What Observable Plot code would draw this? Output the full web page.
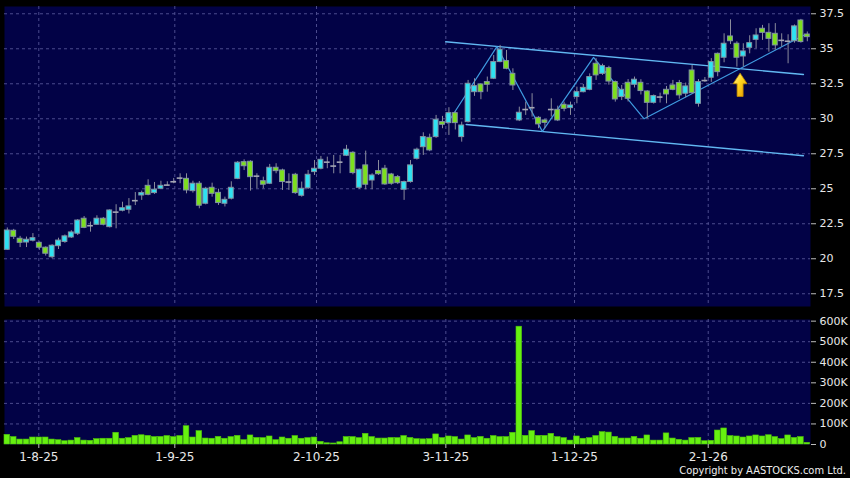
<!DOCTYPE html>
<html><head><meta charset="utf-8">
<script src="https://cdn.jsdelivr.net/npm/d3@7"></script>
<script src="https://cdn.jsdelivr.net/npm/@observablehq/plot@0.6"></script>
<style>
html,body{margin:0;padding:0;background:#000;}
#chart{position:relative;width:850px;height:478px;background:#000;overflow:hidden;font-family:"DejaVu Sans",sans-serif;}
#price{position:absolute;left:0;top:0;}
#vol{position:absolute;left:0;top:313px;}
#copy{position:absolute;right:4px;top:464px;color:#eeeeee;font:11px "DejaVu Sans Condensed","DejaVu Sans",sans-serif;white-space:nowrap;}
</style></head>
<body><div id="chart"><div id="price"></div><div id="vol"></div><div id="copy">Copyright by AASTOCKS.com Ltd.</div></div>
<script>
// ---- data (one entry per trading day, index = position) ----
const opens  = [20.64,22.0,21.43,21.16,21.29,21.14,20.79,20.11,20.9,21.2,21.52,21.79,22.86,22.36,22.43,22.86,22.26,23.33,23.43,23.5,24.15,24.52,25.21,24.69,25.0,25.26,25.5,25.76,25.71,24.83,25.36,23.93,25.07,24.71,23.93,24.29,25.71,26.9,26.93,25.9,25.54,25.36,26.5,26.31,25.48,26.0,24.5,25.04,26.19,26.43,26.9,26.62,26.9,27.36,27.57,25.07,26.67,25.59,26.26,26.43,26.02,25.83,24.93,25.48,27.14,27.97,28.64,28.69,29.76,29.69,30.4,28.69,29.76,31.9,32.45,32.62,32.86,34.05,34.12,33.21,29.88,30.66,30.79,30.07,29.88,30.66,30.64,31.0,30.76,31.55,31.9,32.07,33.93,33.21,33.62,32.62,31.55,32.57,32.43,32.57,31.95,31.14,31.55,32.07,32.38,32.55,31.79,33.45,31.07,32.73,32.93,34.64,34.36,35.88,35.36,34.45,35.07,35.64,36.43,36.14,36.07,35.6,35.54,35.54,37.02,36.02];
const closes = [22.02,21.57,21.14,21.36,21.47,20.79,20.36,20.93,21.3,21.6,21.88,22.73,22.21,22.36,22.86,22.43,23.45,23.33,23.61,23.74,24.15,24.69,24.57,24.93,25.21,25.26,25.5,25.76,24.88,25.36,23.79,25.0,24.64,23.98,24.21,25.07,26.86,26.61,25.83,25.9,25.29,26.5,26.26,25.48,25.48,24.69,25.0,26.0,26.43,27.07,26.9,26.62,26.9,27.79,26.12,26.36,25.29,25.95,26.04,25.31,25.36,25.4,25.48,26.67,27.79,28.69,27.74,29.93,29.57,30.4,29.69,29.52,32.5,32.33,31.9,32.43,34.05,34.93,33.57,32.38,30.43,30.66,30.79,29.6,29.71,30.66,29.88,30.71,30.95,31.9,32.21,32.98,33.1,33.76,32.66,31.38,32.07,31.43,32.79,31.98,31.14,31.62,31.55,31.74,32.07,31.67,32.31,31.83,32.62,32.73,34.05,33.33,35.36,35.54,34.36,34.81,35.4,35.95,36.14,35.71,35.24,35.6,35.54,36.6,35.48,35.83];
const highs  = [22.2,22.1,21.6,21.55,21.8,21.2,20.85,21.0,21.47,21.7,22.0,22.8,23.02,22.62,23.07,22.95,23.5,23.86,24.04,24.3,24.73,24.83,25.64,25.45,25.54,25.5,25.74,26.07,26.07,25.54,25.52,25.1,25.4,24.97,24.4,25.5,26.95,27.07,27.0,26.07,25.83,26.74,26.79,26.4,26.07,26.1,25.48,26.31,27.02,27.31,27.26,27.38,27.38,28.1,27.65,26.4,27.69,26.07,27.02,26.67,26.1,25.95,25.55,27.02,27.9,29.0,28.9,30.24,30.17,30.79,30.5,29.76,32.74,32.86,32.5,32.98,34.52,35.24,34.88,33.57,30.83,31.19,31.79,30.15,29.95,31.43,30.9,31.19,31.19,32.26,32.45,33.21,34.29,33.9,33.75,32.7,32.38,32.8,32.98,32.79,32.0,31.7,31.83,32.31,32.74,32.74,32.55,33.81,32.8,32.95,34.3,34.7,36.07,37.07,35.5,35.36,35.93,36.43,36.67,36.79,36.8,36.07,36.0,36.7,37.1,36.2];
const lows   = [20.6,21.38,20.8,20.8,21.2,20.6,20.19,20.0,20.66,21.1,21.45,21.66,22.15,21.9,22.4,22.35,22.2,22.14,23.35,23.2,23.8,24.17,24.5,24.6,24.95,25.2,25.36,25.36,24.64,24.69,23.57,23.85,24.4,23.81,23.7,24.2,25.65,26.3,24.83,25.0,25.0,25.3,26.07,24.88,24.88,24.6,24.4,24.95,25.95,26.35,26.43,26.07,26.07,27.3,26.0,24.95,24.93,24.93,25.95,25.25,25.25,25.3,24.17,25.4,27.05,27.38,27.65,28.6,29.29,28.81,29.2,28.33,29.7,31.6,31.36,31.9,32.8,34.0,33.5,32.02,29.8,30.24,30.12,29.29,29.29,30.12,29.8,30.5,30.24,31.07,31.85,32.0,32.74,33.1,32.4,31.19,31.3,31.2,32.2,31.7,30.0,31.05,31.12,31.07,32.0,31.4,31.5,31.75,30.83,32.6,32.6,33.0,34.0,35.3,33.69,33.69,34.64,35.0,35.6,34.76,34.9,35.12,33.93,35.4,35.4,35.5];
const volumesK = [47,36,24,24,34,34,34,24,21,16,19,31,19,18,26,28,28,57,28,31,42,45,42,36,37,41,36,41,89,34,65,29,28,37,28,36,42,21,44,32,31,39,21,34,28,41,28,31,34,13,6,5,11,36,36,31,52,36,29,29,32,31,41,32,26,25,26,49,31,39,36,24,44,31,37,28,41,36,36,57,573,42,65,42,42,52,36,31,19,39,28,31,41,60,58,37,29,29,37,28,44,19,19,54,29,23,19,31,32,16,18,68,78,41,39,34,39,44,39,45,36,26,44,32,36,8];

const dateTickPos    = [4.92, 26.17, 48.31, 68.52, 88.63, 109.52];
const dateTickLabels = ["1-8-25", "1-9-25", "2-10-25", "3-11-25", "1-12-25", "2-1-26"];
const priceTicks  = [17.5, 20, 22.5, 25, 27.5, 30, 32.5, 35, 37.5];
const volumeTicks = [0, 100, 200, 300, 400, 500, 600];

// drawn trend lines (index, price)
const upperChannelX = [68.5, 124.4];
const upperChannelY = [35.5, 33.16];
const lowerChannelX = [71.7, 124.4];
const lowerChannelY = [29.59, 27.36];
const zigzagX = [68.8, 76.5, 83.6, 91.6, 99.5, 124.6];
const zigzagY = [29.7, 35.15, 29.1, 34.38, 30.0, 36.0];
const arrowX = [114.5];
const arrowY = [32.43];

// ---- build ----
const candles = opens.map((o, i) => ({i, open: o, close: closes[i], high: highs[i], low: lows[i]}));
const bodies = candles.filter(d => d.open !== d.close);
const dojis = candles.filter(d => d.open === d.close);
const vols = volumesK.map((v, i) => ({i, v}));
const toPts = (xs, ys) => xs.map((x, k) => ({x, y: ys[k]}));
const labelOf = new Map(dateTickPos.map((p, k) => [p, dateTickLabels[k]]));

const navy = "#020246";
const gridC = "#4c4c8e";
const textC = "#e8e8e8";
const xDomain = [-0.44, 125.5];
const HW = 0.38;

const arrowSymbol = {draw(ctx) {
  ctx.moveTo(0, -11.6); ctx.lineTo(7, -1); ctx.lineTo(3, -1); ctx.lineTo(3, 11.7);
  ctx.lineTo(-3, 11.7); ctx.lineTo(-3, -1); ctx.lineTo(-7, -1); ctx.closePath();
}};

const price = Plot.plot({
  width: 850, height: 307, marginTop: 6, marginBottom: 1, marginLeft: 4, marginRight: 40,
  style: {background: "transparent", color: textC, fontFamily: "DejaVu Sans", fontSize: "11px"},
  x: {domain: xDomain, axis: null, label: null},
  y: {domain: [16.59, 38.02], axis: null, label: null},
  marks: [
    Plot.frame({fill: navy, stroke: null}),
    Plot.gridY(priceTicks, {stroke: gridC, strokeOpacity: 1, strokeDasharray: "3,3"}),
    Plot.gridX(dateTickPos, {stroke: gridC, strokeOpacity: 1, strokeDasharray: "3,3"}),
    Plot.axisY(priceTicks, {anchor: "right", label: null, tickSize: 5, tickPadding: 4, stroke: "#bbbbbb", fill: textC, fontSize: 11, tickFormat: d => String(d)}),
    Plot.line(toPts(upperChannelX, upperChannelY), {x: "x", y: "y", stroke: "#62b8f2", strokeWidth: 1.4}),
    Plot.line(toPts(lowerChannelX, lowerChannelY), {x: "x", y: "y", stroke: "#62b8f2", strokeWidth: 1.4}),
    Plot.line(toPts(zigzagX, zigzagY), {x: "x", y: "y", stroke: "#3f9be0", strokeWidth: 1.2}),
    Plot.ruleX(candles, {x: "i", y1: "low", y2: "high", stroke: "#8a8c9c", strokeWidth: 1}),
    Plot.rect(bodies, {x1: d => d.i - HW, x2: d => d.i + HW, y1: "open", y2: "close",
      fill: d => d.close > d.open ? "#2ee2f2" : "#7ddf1e", stroke: "#8294a4", strokeWidth: 1}),
    Plot.ruleY(dojis, {y: "open", x1: d => d.i - 0.45, x2: d => d.i + 0.45, stroke: "#a4a6b4", strokeWidth: 1.6}),
    Plot.dot(toPts(arrowX, arrowY), {x: "x", y: "y", symbol: arrowSymbol, fill: "url(#arrowGrad)", stroke: "#c08a00", strokeWidth: 0.8})
  ]
});
d3.select(price).insert("defs", ":first-child").html(
  '<linearGradient id="arrowGrad" x1="0" y1="0" x2="1" y2="1">' +
  '<stop offset="0" stop-color="#fff7a8"/><stop offset="0.45" stop-color="#ffd41c"/><stop offset="1" stop-color="#e39600"/></linearGradient>');
document.getElementById("price").appendChild(price);

const vol = Plot.plot({
  width: 850, height: 165, marginTop: 6, marginBottom: 34, marginLeft: 4, marginRight: 40,
  style: {background: "transparent", color: textC, fontFamily: "DejaVu Sans", fontSize: "11px"},
  x: {domain: xDomain, axis: null, label: null},
  y: {domain: [0, 608], axis: null, label: null},
  marks: [
    Plot.frame({fill: navy, stroke: null}),
    Plot.gridY(volumeTicks.slice(1), {stroke: gridC, strokeOpacity: 1, strokeDasharray: "3,3"}),
    Plot.gridX(dateTickPos, {stroke: gridC, strokeOpacity: 1, strokeDasharray: "3,3"}),
    Plot.rectY(vols, {x1: d => d.i - 0.44, x2: d => d.i + 0.44, y: "v", fill: "#66f010", stroke: "#4fc20a", strokeWidth: 0.6}),
    Plot.axisY(volumeTicks, {anchor: "right", label: null, tickSize: 5, tickPadding: 4, stroke: "#bbbbbb", fill: textC, fontSize: 11,
      tickFormat: d => d === 0 ? "0" : d + "K"}),
    Plot.axisX(dateTickPos, {anchor: "bottom", label: null, tickSize: 4, tickPadding: 4, stroke: "#bbbbbb", fill: textC, fontSize: 12,
      tickFormat: d => labelOf.get(d)})
  ]
});
document.getElementById("vol").appendChild(vol);
</script>
</body></html>
